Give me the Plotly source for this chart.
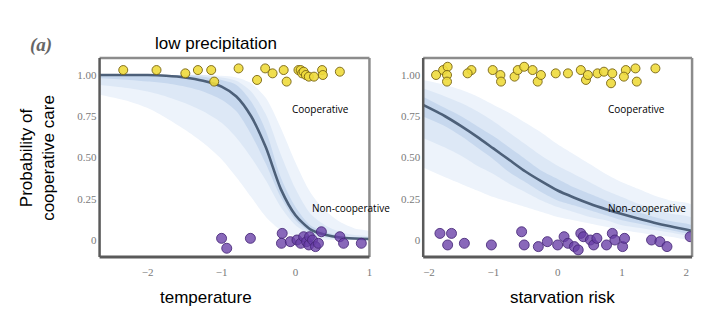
import plotly.graph_objects as go

W, H = 712, 326

# ---------------- data: left panel (temperature) ----------------
temp_x = [-2.65, -2.25, -2.0, -1.75, -1.5, -1.25, -1.0, -0.8, -0.6, -0.4, -0.2, 0.0, 0.2, 0.4, 0.6, 0.8, 1.0]
temp_mean = [1.0, 1.0, 1.0, 0.995, 0.985, 0.965, 0.93, 0.87, 0.75, 0.56, 0.31, 0.15, 0.065, 0.032, 0.015, 0.009, 0.006]
temp_outer_lo = [0.88, 0.84, 0.80, 0.74, 0.67, 0.59, 0.49, 0.38, 0.26, 0.14, 0.06, 0.02, 0.0, 0.0, 0.0, 0.0, 0.0]
temp_outer_hi = [1.0, 1.0, 1.0, 1.0, 1.0, 1.0, 0.995, 0.985, 0.95, 0.86, 0.68, 0.47, 0.29, 0.18, 0.11, 0.07, 0.05]
temp_mid_lo = [0.94, 0.92, 0.90, 0.87, 0.83, 0.78, 0.71, 0.62, 0.50, 0.36, 0.20, 0.09, 0.035, 0.012, 0.004, 0.0, 0.0]
temp_mid_hi = [1.0, 1.0, 1.0, 1.0, 1.0, 1.0, 0.985, 0.965, 0.90, 0.76, 0.52, 0.31, 0.16, 0.09, 0.05, 0.03, 0.02]
temp_in_lo = [0.98, 0.97, 0.96, 0.95, 0.93, 0.90, 0.85, 0.78, 0.64, 0.46, 0.26, 0.12, 0.05, 0.022, 0.008, 0.004, 0.002]
temp_in_hi = [1.0, 1.0, 1.0, 1.0, 1.0, 0.99, 0.97, 0.94, 0.84, 0.66, 0.38, 0.20, 0.09, 0.05, 0.025, 0.015, 0.01]

temp_coop_x = [-2.33, -1.88, -1.49, -1.32, -1.14, -1.10, -0.77, -0.52, -0.41, -0.31, -0.16, -0.12,
               0.04, 0.07, 0.09, 0.11, 0.14, 0.18, 0.25, 0.36, 0.37, 0.60]
temp_coop_y = [1.03, 1.03, 1.01, 1.03, 1.03, 0.96, 1.04, 0.97, 1.04, 1.01, 1.03, 0.96,
               1.03, 1.03, 1.01, 1.02, 1.00, 0.99, 0.99, 1.03, 1.00, 1.02]
temp_non_x = [-1.00, -0.93, -0.61, -0.18, -0.19, -0.07, 0.02, 0.07, 0.11, 0.15, 0.18, 0.19,
              0.23, 0.27, 0.31, 0.35, 0.60, 0.65, 0.89]
temp_non_y = [0.01, -0.05, 0.01, 0.04, -0.02, -0.01, 0.00, -0.02, 0.02, -0.01, -0.03, 0.02,
              0.00, -0.04, -0.02, 0.05, 0.02, -0.02, -0.02]

# ---------------- data: right panel (starvation risk) ----------------
starv_x = [-2.1, -1.75, -1.5, -1.25, -1.0, -0.75, -0.5, -0.25, 0.0, 0.25, 0.5, 0.75, 1.0, 1.25, 1.5, 1.75, 2.1]
starv_mean = [0.82, 0.75, 0.69, 0.625, 0.555, 0.485, 0.415, 0.355, 0.30, 0.258, 0.22, 0.187, 0.157, 0.13, 0.105, 0.083, 0.055]
starv_outer_hi = [0.97, 0.94, 0.91, 0.87, 0.82, 0.77, 0.71, 0.65, 0.58, 0.52, 0.46, 0.40, 0.35, 0.31, 0.27, 0.24, 0.21]
starv_outer_lo = [0.44, 0.38, 0.34, 0.30, 0.26, 0.23, 0.20, 0.17, 0.14, 0.12, 0.10, 0.08, 0.06, 0.045, 0.03, 0.02, 0.01]
starv_mid_hi = [0.92, 0.87, 0.83, 0.78, 0.72, 0.65, 0.58, 0.51, 0.45, 0.40, 0.35, 0.30, 0.26, 0.22, 0.19, 0.16, 0.13]
starv_mid_lo = [0.62, 0.56, 0.51, 0.45, 0.40, 0.34, 0.29, 0.24, 0.20, 0.17, 0.14, 0.12, 0.09, 0.075, 0.06, 0.045, 0.03]
starv_in_hi = [0.87, 0.80, 0.75, 0.69, 0.63, 0.56, 0.49, 0.42, 0.37, 0.32, 0.28, 0.24, 0.20, 0.17, 0.14, 0.115, 0.085]
starv_in_lo = [0.75, 0.69, 0.63, 0.56, 0.49, 0.41, 0.35, 0.29, 0.24, 0.21, 0.18, 0.15, 0.12, 0.10, 0.08, 0.06, 0.04]

starv_coop_x = [-1.89, -1.78, -1.71, -1.72, -1.72, -1.34, -1.40, -1.01, -0.89, -0.88, -0.67, -0.62,
                -0.52, -0.39, -0.31, -0.26, -0.03, 0.16, 0.36, 0.44, 0.47, 0.62, 0.72, 0.85,
                0.83, 1.06, 1.03, 1.21, 1.23, 1.52]
starv_coop_y = [1.00, 1.03, 1.05, 1.00, 0.96, 1.03, 1.01, 1.03, 1.00, 0.96, 0.99, 1.03,
                1.05, 1.03, 0.96, 1.00, 1.01, 1.01, 1.03, 0.97, 1.00, 1.01, 1.02, 1.01,
                0.95, 1.03, 0.99, 1.04, 0.96, 1.04]
starv_non_x = [-1.83, -1.65, -1.71, -1.45, -1.03, -0.56, -0.52, -0.30, -0.16, 0.00, 0.10, 0.16,
               0.26, 0.32, 0.36, 0.40, 0.51, 0.56, 0.61, 0.76, 0.85, 0.89, 1.01, 1.04,
               1.46, 1.59, 1.70, 2.06]
starv_non_y = [0.04, 0.04, -0.03, -0.02, -0.03, 0.05, -0.03, -0.04, -0.01, -0.03, 0.02, -0.02,
               -0.04, -0.06, 0.04, 0.02, 0.00, -0.03, 0.01, -0.03, 0.04, 0.00, -0.04, 0.01,
               0.00, -0.01, -0.04, 0.02]

y_ticks = [0, 0.25, 0.5, 0.75, 1.0]
y_tick_text = ["0", "0.25", "0.50", "0.75", "1.00"]
x1_ticks = [-2, -1, 0, 1]
x1_tick_text = ["\u22122", "\u22121", "0", "1"]
x2_ticks = [-2, -1, 0, 1, 2]
x2_tick_text = ["\u22122", "\u22121", "0", "1", "2"]

band_colors = ["rgb(237,243,251)", "rgb(221,232,246)", "rgb(199,216,238)"]
curve_color = "#4d6079"
coop_fill, coop_line = "rgba(238,218,60,0.9)", "rgba(120,100,20,0.9)"
non_fill, non_line = "rgba(104,62,166,0.78)", "rgba(70,40,120,0.85)"

fig = go.Figure()


def add_panel(x, mean, bands, cx, cy, nx, ny, xa, ya):
    for (lo, hi), col in zip(bands, band_colors):
        fig.add_trace(go.Scatter(x=list(x) + list(x)[::-1], y=list(hi) + list(lo)[::-1],
                                 fill="toself", fillcolor=col, line=dict(width=0, shape="spline", smoothing=0.8),
                                 mode="lines", hoverinfo="skip", showlegend=False,
                                 xaxis=xa, yaxis=ya))
    fig.add_trace(go.Scatter(x=x, y=mean, mode="lines",
                             line=dict(color=curve_color, width=2.6, shape="spline", smoothing=0.7),
                             showlegend=False, xaxis=xa, yaxis=ya))
    fig.add_trace(go.Scatter(x=cx, y=cy, mode="markers",
                             marker=dict(size=9, color=coop_fill, line=dict(color=coop_line, width=1)),
                             showlegend=False, xaxis=xa, yaxis=ya))
    fig.add_trace(go.Scatter(x=nx, y=ny, mode="markers",
                             marker=dict(size=10, color=non_fill, line=dict(color=non_line, width=1)),
                             showlegend=False, xaxis=xa, yaxis=ya))


add_panel(temp_x, temp_mean,
          [(temp_outer_lo, temp_outer_hi), (temp_mid_lo, temp_mid_hi), (temp_in_lo, temp_in_hi)],
          temp_coop_x, temp_coop_y, temp_non_x, temp_non_y, "x", "y")
add_panel(starv_x, starv_mean,
          [(starv_outer_lo, starv_outer_hi), (starv_mid_lo, starv_mid_hi), (starv_in_lo, starv_in_hi)],
          starv_coop_x, starv_coop_y, starv_non_x, starv_non_y, "x2", "y2")

tick_font = dict(family="Liberation Serif", size=11, color="#7a7a7a")
ydom = [(H - 257) / H, (H - 58) / H]

common_x = dict(showgrid=False, zeroline=False, showline=False, ticks="", tickfont=tick_font,
                ticklabelstandoff=7)
common_y = dict(showgrid=False, zeroline=False, showline=False, ticks="", tickfont=tick_font,
                tickvals=y_ticks, ticktext=y_tick_text, range=[-0.103, 1.103], domain=ydom,
                ticklabelstandoff=2)

fig.update_layout(
    width=W, height=H, margin=dict(l=0, r=0, t=0, b=0),
    paper_bgcolor="white", plot_bgcolor="white",
    xaxis=dict(common_x, domain=[100 / W, 371 / W], range=[-2.65, 1.0], tickvals=x1_ticks, ticktext=x1_tick_text),
    yaxis=dict(common_y, anchor="x"),
    xaxis2=dict(common_x, domain=[425 / W, 695 / W], range=[-2.09, 2.09], tickvals=x2_ticks, ticktext=x2_tick_text,
                anchor="y2"),
    yaxis2=dict(common_y, anchor="x2"),
)

# frames
for xr, yr in [("x domain", "y domain"), ("x2 domain", "y2 domain")]:
    fig.add_shape(type="line", xref=xr, yref=yr, x0=0, x1=1, y0=1, y1=1, line=dict(color="#8c8c8c", width=2.5))
    fig.add_shape(type="line", xref=xr, yref=yr, x0=1, x1=1, y0=0, y1=1, line=dict(color="#8c8c8c", width=2.5))
    fig.add_shape(type="line", xref=xr, yref=yr, x0=0, x1=1, y0=0, y1=0, line=dict(color="#5a5a5a", width=3))
    fig.add_shape(type="line", xref=xr, yref=yr, x0=0, x1=0, y0=0, y1=1, line=dict(color="#5a5a5a", width=2.5))


def px_ann(text, x, y, size, family="Liberation Sans", color="black", xanchor="center", angle=0, **kw):
    fig.add_annotation(text=text, x=x / W, y=1 - y / H, xref="paper", yref="paper", showarrow=False,
                       xanchor=xanchor, yanchor="middle", textangle=angle,
                       font=dict(family=family, size=size, color=color), **kw)


px_ann("low precipitation", 217, 43, 17)
px_ann("<b><i>(a)</i></b>", 41, 45, 19, family="Liberation Serif", color="#666666")
px_ann("temperature", 207, 297, 17)
px_ann("starvation risk", 565, 297, 17)
px_ann("Probability of<br>cooperative care", 37, 158, 17, angle=-90)
px_ann("Cooperative", 291, 109, 10, family="Open Sans", xanchor="left")
px_ann("Non-cooperative", 311, 208, 10, family="Open Sans", xanchor="left")
px_ann("Cooperative", 609, 109, 10, family="Open Sans", xanchor="left")
px_ann("Non-cooperative", 609, 208, 10, family="Open Sans", xanchor="left")

fig.write_html("out.html")
